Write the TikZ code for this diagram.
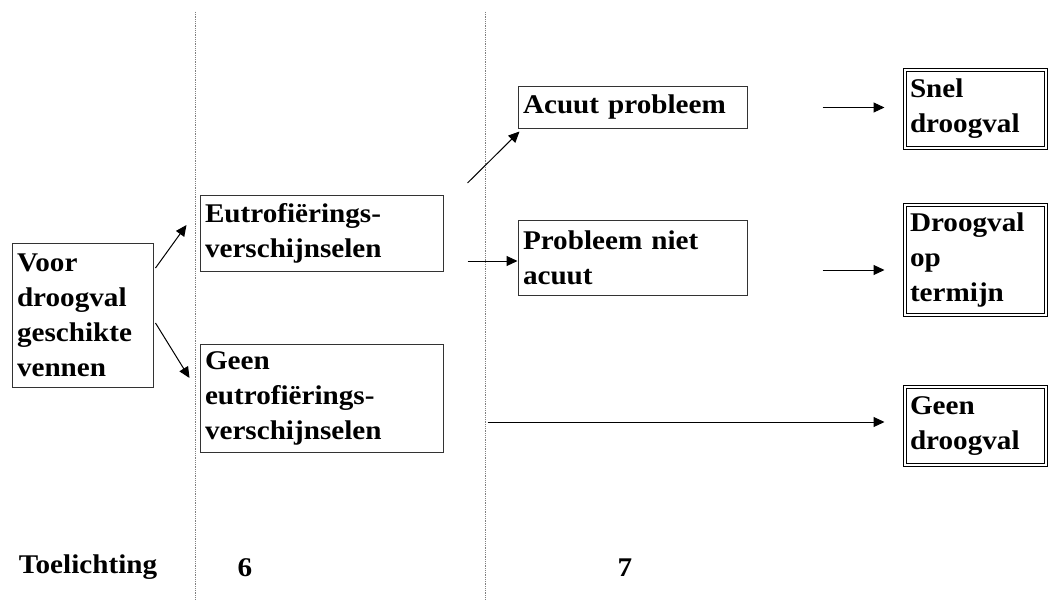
\documentclass[tikz,border=0pt]{standalone}
\usepackage{fontspec}
\setmainfont[FakeStretch=1.08]{Liberation Serif}
\usetikzlibrary{arrows.meta,calc}
\tikzset{
  letter/.style={font=\fontsize{27}{35}\selectfont\bfseries},
  vak/.style={letter, draw=black!80, line width=1pt, align=left, inner xsep=5pt, inner ysep=0pt},
  eind/.style={vak, draw=black, double, double distance=2pt},
  pijl/.style={-{Triangle[length=11pt,width=10pt]}, line width=1pt},
  scheiding/.style={densely dotted, gray, line width=0.8pt}
}
\begin{document}
\begin{tikzpicture}[x=1pt,y=-1pt]
\useasboundingbox (0,0) rectangle (1048,599);
% kolomgrenzen
\draw[scheiding] (195,12) -- (195,599);
\draw[scheiding] (485,12) -- (485,599);
% vakken
\node[vak, text width=131pt, minimum height=144pt] (voor) at (82.5,315) {Voor\\droogval\\geschikte\\vennen};
\node[vak, text width=233pt, minimum height=76pt] (eutro) at (321.5,233) {Eutrofi\"erings-\\verschijnselen};
\node[vak, text width=233pt, minimum height=108pt] (geen) at (321.5,398) {Geen\\eutrofi\"erings-\\verschijnselen};
\node[vak, text width=219pt, minimum height=41pt] (acuut) at (632.5,107.5) {Acuut probleem};
\node[vak, text width=219pt, minimum height=75pt] (niet) at (632.5,257.5) {Probleem niet\\acuut};
\node[eind, text width=131pt, minimum height=78pt] (snel) at (975.5,109) {Snel\\droogval};
\node[eind, text width=131pt, minimum height=110pt] (termijn) at (975.5,260) {Droogval\\op\\termijn};
\node[eind, text width=131pt, minimum height=78pt] (geendv) at (975.5,426) {Geen\\droogval};
% pijlen
\draw[pijl] ($(voor.east)+(2,-47)$) -- ($(eutro.west)+(-13,-8)$);
\draw[pijl] ($(voor.east)+(2,8)$) -- ($(geen.west)+(-10,-20)$);
\draw[pijl] ($(eutro.east)+(24,-50)$) -- ($(acuut.south west)+(2,3)$);
\draw[pijl] ($(eutro.east)+(24,28)$) -- ($(niet.west)+(0,3.5)$);
\draw[pijl] ($(acuut.east)+(75,0)$) -- ($(snel.west)+(-20,-1.5)$);
\draw[pijl] ($(niet.east)+(75,12.5)$) -- ($(termijn.west)+(-20,10)$);
\draw[pijl] ($(geen.east)+(44,24)$) -- ($(geendv.west)+(-20,-4)$);
% onderschriften
\node[letter] (toel) at (88,567) {Toelichting};
\node[letter] (kol6) at (245,568) {6};
\node[letter] (kol7) at (625,568) {7};
\end{tikzpicture}
\end{document}
